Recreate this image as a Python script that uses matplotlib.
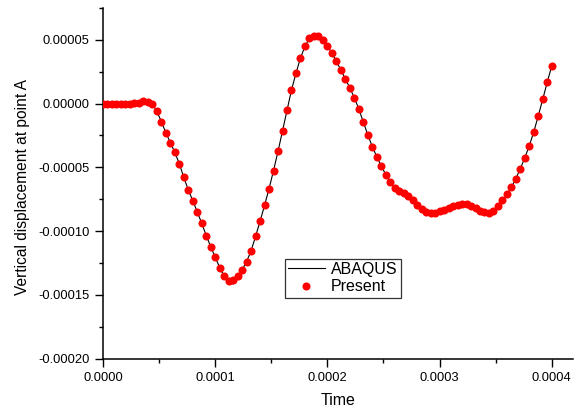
import matplotlib
matplotlib.use("Agg")
import matplotlib.pyplot as plt
from matplotlib.ticker import FormatStrFormatter, MultipleLocator

plt.rcParams['font.family'] = ['Liberation Sans', 'DejaVu Sans']

# time samples, in microseconds
time_us = [
    0, 4, 8, 12, 16, 20, 24, 28, 32, 36,
    40, 44, 48, 52, 56, 60, 64, 68, 72, 76,
    80, 84, 88, 92, 96, 100, 104, 108, 112, 116,
    120, 124, 128, 132, 136, 140, 144, 148, 152, 156,
    160, 164, 168, 172, 176, 180, 184, 188, 192, 196,
    200, 204, 208, 212, 216, 220, 224, 228, 232, 236,
    240, 244, 248, 252, 256, 260, 264, 268, 272, 276,
    280, 284, 288, 292, 296, 300, 304, 308, 312, 316,
    320, 324, 328, 332, 336, 340, 344, 348, 352, 356,
    360, 364, 368, 372, 376, 380, 384, 388, 392, 396,
    400,
]

# vertical displacement, in units of 1e-5
present = [
    0.00, 0.00, 0.00, 0.00, 0.00, 0.00, 0.00, 0.02, 0.08, 0.18,
    0.15, -0.05, -0.60, -1.41, -2.27, -3.06, -3.82, -4.71, -5.78, -6.77,
    -7.61, -8.49, -9.39, -10.35, -11.22, -12.05, -12.86, -13.50, -13.88, -13.84,
    -13.53, -13.04, -12.39, -11.55, -10.41, -9.23, -7.98, -6.67, -5.25, -3.74,
    -2.14, -0.53, 1.07, 2.38, 3.58, 4.49, 5.12, 5.33, 5.28, 5.02,
    4.55, 3.95, 3.32, 2.64, 1.94, 1.23, 0.47, -0.42, -1.44, -2.45,
    -3.37, -4.16, -4.89, -5.57, -6.17, -6.61, -6.82, -7.04, -7.27, -7.55,
    -7.92, -8.24, -8.47, -8.60, -8.55, -8.45, -8.31, -8.16, -8.04, -7.92,
    -7.84, -7.88, -8.00, -8.20, -8.39, -8.51, -8.59, -8.39, -8.04, -7.57,
    -7.10, -6.55, -5.88, -5.10, -4.24, -3.29, -2.20, -0.94, 0.37, 1.70,
    2.98,
]

abaqus = [
    0.00, 0.00, 0.00, 0.00, 0.00, 0.00, 0.00, 0.02, 0.08, 0.18,
    0.15, -0.05, -0.60, -1.41, -2.27, -3.06, -3.82, -4.71, -5.78, -6.77,
    -7.61, -8.49, -9.39, -10.35, -11.22, -12.05, -12.86, -13.55, -14.05, -14.15,
    -13.65, -13.04, -12.39, -11.55, -10.41, -9.23, -7.98, -6.67, -5.25, -3.74,
    -2.14, -0.53, 1.07, 2.38, 3.58, 4.49, 5.15, 5.40, 5.36, 5.02,
    4.55, 3.95, 3.32, 2.64, 1.94, 1.23, 0.47, -0.42, -1.44, -2.45,
    -3.37, -4.16, -4.89, -5.57, -6.17, -6.61, -6.82, -7.04, -7.27, -7.55,
    -7.92, -8.24, -8.50, -8.66, -8.64, -8.48, -8.31, -8.16, -8.04, -7.92,
    -7.84, -7.88, -8.00, -8.20, -8.42, -8.62, -8.85, -8.55, -8.04, -7.57,
    -7.10, -6.55, -5.88, -5.10, -4.24, -3.29, -2.20, -0.94, 0.37, 1.70,
    2.98,
]

t = [v * 1e-6 for v in time_us]
y_present = [v * 1e-5 for v in present]
y_abaqus = [v * 1e-5 for v in abaqus]

fig = plt.figure(figsize=(5.76, 4.11), dpi=100)
ax = fig.add_axes([0.1788, 0.1277, 0.8162, 0.8528])

ax.plot(t, y_abaqus, color="black", linewidth=0.8, label="ABAQUS", zorder=2)
ax.plot(t, y_present, linestyle="none", marker="o", markersize=5.8,
        color="#ff0000", markeredgewidth=0, label="Present", zorder=3)

ax.set_xlim(0, 0.000419)
ax.set_ylim(-0.0002, 0.000075)

ax.xaxis.set_major_locator(MultipleLocator(0.0001))
ax.xaxis.set_minor_locator(MultipleLocator(0.00005))
ax.yaxis.set_major_locator(MultipleLocator(0.00005))
ax.yaxis.set_minor_locator(MultipleLocator(0.000025))
ax.xaxis.set_major_formatter(FormatStrFormatter("%.4f"))
ax.yaxis.set_major_formatter(FormatStrFormatter("%.5f"))

ax.spines["top"].set_visible(False)
ax.spines["right"].set_visible(False)
for s in ("left", "bottom"):
    ax.spines[s].set_linewidth(1.1)

ax.tick_params(which="major", direction="out", length=5.5, width=1.0,
               labelsize=9.3, pad=4)
ax.tick_params(which="minor", direction="out", length=3, width=1.0)

ax.set_xlabel("Time", fontsize=11.5, labelpad=7)
ax.set_ylabel("Vertical displacement at point A", fontsize=11.2)
ax.yaxis.set_label_coords(-0.155, 0.488)

leg = ax.legend(loc="lower left", bbox_to_anchor=(0.387, 0.174),
                fontsize=11.5, frameon=True, fancybox=False, numpoints=1,
                handlelength=2.3, handletextpad=0.4, labelspacing=0.15,
                borderpad=0.2, borderaxespad=0)
leg.get_frame().set_edgecolor("black")
leg.get_frame().set_linewidth(0.9)

fig.savefig("out.png", dpi=100)
